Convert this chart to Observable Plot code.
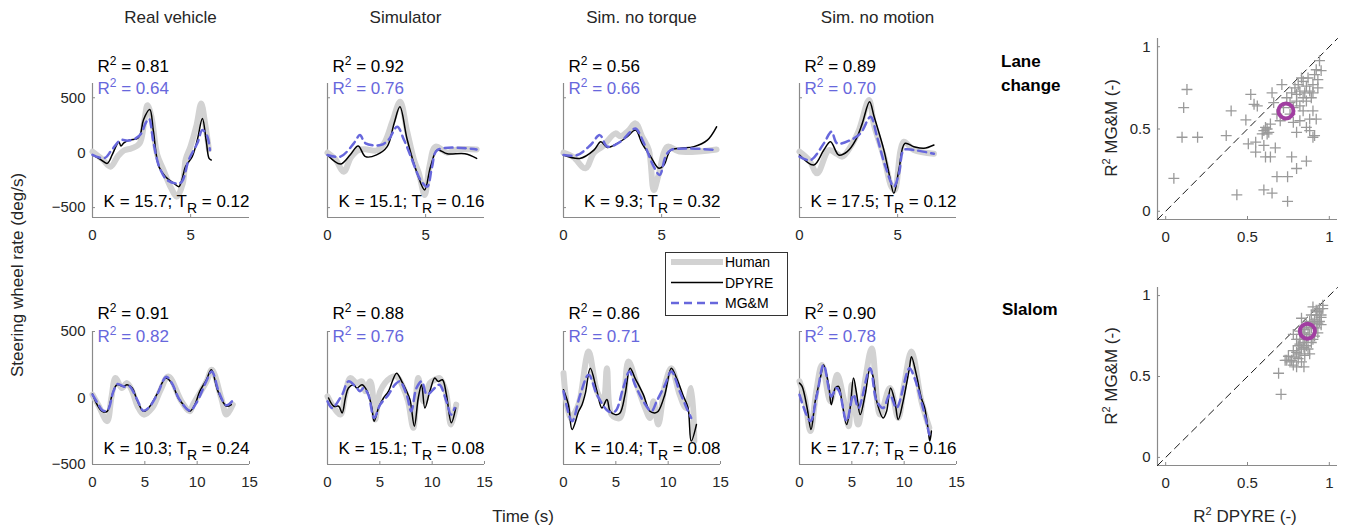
<!DOCTYPE html>
<html><head><meta charset="utf-8">
<script src="https://cdn.jsdelivr.net/npm/d3@7"></script>
<script src="https://cdn.jsdelivr.net/npm/@observablehq/plot@0.6"></script>
<style>
body{margin:0;background:#fff;}
#root{position:relative;width:1348px;height:529px;font-family:"Liberation Sans",Arial,sans-serif;color:#262626;overflow:hidden;background:#fff}
.abs{position:absolute;white-space:nowrap}
.c{transform:translate(-50%,-50%)}
.rot{transform:translate(-50%,-50%) rotate(-90deg)}
.lab{font-size:17px}
sup{font-size:11px;vertical-align:7px;line-height:0}
</style></head><body><div id="root"></div><script>
// ---------- categories / labels ----------
const conditions = ["Real vehicle", "Simulator", "Sim. no torque", "Sim. no motion"];
const maneuvers = ["Lane change", "Slalom"];
const seriesNames = ["Human", "DPYRE", "MG&M"];
const r2Dpyre = [[0.81, 0.92, 0.56, 0.89], [0.91, 0.88, 0.86, 0.90]];
const r2Mgm   = [[0.64, 0.76, 0.66, 0.70], [0.82, 0.76, 0.71, 0.78]];
const gainK   = [[15.7, 15.1, 9.3, 17.5], [10.3, 15.1, 10.4, 17.7]];
const tauR    = [[0.12, 0.16, 0.32, 0.12], [0.24, 0.08, 0.08, 0.16]];
const timeDomains = [[0, 8], [0, 15]];
const rateDomains = [[-590, 630], [-500, 500]];
const timeTicks = [[0, 5], [0, 5, 10, 15]];
const rateTicks = [-500, 0, 500];
const r2Domain = [-0.05, 1.05];
const r2Ticks = [0, 0.5, 1];

// ---------- time series: [time (s), steering wheel rate (deg/s)] ----------
// Lane change
const lcRealHuman = [[0,10],[0.5,-60],[0.92,-127],[1.3,-30],[1.6,20],[2.0,40],[2.4,85],[2.65,300],[2.8,433],[3.0,330],[3.3,-20],[3.6,-150],[4.0,-320],[4.3,-400],[4.6,-280],[4.75,-60],[5.0,60],[5.3,250],[5.54,448],[5.75,250],[5.93,30]];
const lcRealDpyre = [[0,-20],[0.4,-60],[0.75,-97],[1.0,-20],[1.2,60],[1.34,100],[1.45,60],[1.6,90],[1.9,115],[2.3,130],[2.45,175],[2.6,300],[2.92,394],[3.1,200],[3.38,-127],[3.72,-218],[4.15,-279],[4.4,-309],[4.55,-250],[4.74,-127],[5.08,-36],[5.34,115],[5.6,312],[5.8,100],[5.94,-52],[6.05,-67]];
const lcRealMgm   = [[0,-20],[0.6,-50],[1.0,30],[1.43,115],[1.8,110],[2.2,130],[2.5,180],[2.7,267],[2.88,310],[3.1,100],[3.4,-127],[3.8,-248],[4.3,-280],[4.55,-265],[4.9,-67],[5.34,85],[5.6,206],[5.85,150],[5.98,24]];
const lcSimHuman  = [[0,0],[0.4,-60],[0.83,-173],[1.2,-40],[1.6,24],[2.0,30],[2.5,20],[2.9,90],[3.3,280],[3.7,464],[4.05,200],[4.4,-60],[4.66,-188],[4.95,-385],[5.2,-120],[5.5,55],[6.1,0],[6.6,30],[7.6,30]];
const lcSimDpyre  = [[0,-21],[0.66,-103],[1.15,-21],[1.56,61],[1.94,-36],[2.5,-20],[3.04,55],[3.4,270],[3.69,418],[4.06,120],[4.57,-188],[4.95,-339],[5.25,-127],[5.6,24],[6.1,-10],[7.0,-10],[7.6,-52]];
const lcSimMgm    = [[0,-21],[0.66,-36],[1.34,85],[1.65,160],[1.94,85],[2.7,70],[3.1,115],[3.55,236],[3.9,115],[4.25,-36],[4.74,-248],[5.08,-309],[5.33,-127],[5.6,24],[7.6,30]];
const lcNoTqHuman = [[0,0],[0.5,-40],[1.12,-142],[1.55,0],[2.0,60],[2.65,176],[2.9,150],[3.3,200],[3.67,267],[4.0,150],[4.35,24],[4.6,-340],[4.85,-200],[5.3,55],[5.9,10],[7.8,30]];
const lcNoTqDpyre = [[0,-21],[0.83,-52],[1.55,24],[1.9,100],[2.23,48],[2.74,85],[3.25,145],[3.67,206],[4.0,85],[4.44,-36],[4.86,-142],[5.12,-112],[5.46,24],[5.97,40],[6.65,55],[7.33,115],[7.8,236]];
const lcNoTqMgm   = [[0,-21],[0.7,-21],[1.38,70],[1.85,160],[2.23,55],[2.9,100],[3.42,191],[3.67,221],[4.1,85],[4.6,-127],[4.9,-203],[5.2,-36],[5.46,24],[7.8,24]];
const lcNoMoHuman = [[0,10],[0.5,-70],[0.9,-188],[1.5,24],[1.9,-10],[2.18,-36],[2.6,55],[3.03,206],[3.54,479],[3.8,250],[4.3,-36],[4.68,-309],[4.85,-340],[5.15,24],[5.32,100],[5.83,24],[6.85,-10]];
const lcNoMoDpyre = [[0,-21],[0.73,-112],[1.24,24],[1.58,100],[2.0,-21],[2.43,10],[2.86,115],[3.2,267],[3.57,464],[3.8,330],[4.3,24],[4.56,-188],[4.81,-370],[5.07,-150],[5.37,85],[5.83,55],[6.34,40],[6.85,70]];
const lcNoMoMgm   = [[0,-36],[0.56,-67],[1.24,85],[1.63,191],[1.92,85],[2.6,115],[3.11,176],[3.62,327],[3.95,145],[4.38,-127],[4.81,-309],[5.07,-188],[5.32,24],[5.83,24],[6.85,-10]];
// Slalom
const slRealHuman = [[0,25],[0.6,-60],[1.4,-174],[1.8,0],[2.2,150],[2.8,75],[3.3,112],[3.8,50],[4.3,-60],[4.9,-125],[5.7,-75],[6.5,60],[7.25,162],[8.5,-25],[9.3,-100],[9.6,-50],[10.9,125],[11.4,212],[12.3,0],[12.8,-125],[13.4,-50]];
const slRealDpyre = [[0,30],[0.44,-50],[0.92,-100],[1.4,-100],[1.88,25],[2.34,100],[2.97,87],[3.3,100],[3.8,75],[4.24,-12],[4.87,-100],[5.35,-75],[6.14,25],[7.0,150],[7.56,112],[8.2,0],[8.8,-62],[9.3,-100],[9.78,-50],[10.25,50],[10.88,137],[11.36,212],[11.99,50],[12.8,-62],[13.26,-50]];
const slRealMgm   = [[0,25],[0.5,-40],[1.0,-95],[1.45,-90],[2.0,50],[2.4,105],[3.0,85],[3.5,90],[4.25,-10],[4.85,-95],[5.4,-70],[6.2,30],[7.05,160],[7.6,110],[8.3,-10],[9.3,-95],[9.9,-40],[10.9,130],[11.4,200],[12.1,40],[12.8,-55],[13.6,0]];
const slSimHuman  = [[0,12],[0.44,-50],[1.23,-124],[1.7,25],[2.18,150],[2.8,112],[3.3,125],[3.6,50],[4.08,125],[4.4,-25],[4.56,-162],[5.03,50],[6.0,150],[6.6,162],[7.25,75],[7.7,-25],[8.2,-224],[8.67,150],[9.15,-25],[9.78,112],[10.25,137],[10.7,150],[11.3,50],[11.8,-200],[12.3,-50]];
const slSimDpyre  = [[0.1,0],[0.6,-62],[1.07,-62],[1.4,-112],[1.71,0],[2.0,75],[2.5,100],[2.8,75],[3.3,100],[3.8,50],[4.24,-75],[4.46,-174],[4.87,-75],[5.35,0],[5.82,50],[6.6,187],[7.09,125],[7.56,50],[7.88,-12],[8.3,-212],[8.67,0],[8.99,100],[9.3,-75],[9.78,50],[10.25,150],[10.57,125],[10.98,137],[11.36,25],[11.83,-187],[12.25,-75]];
const slSimMgm    = [[0,-25],[0.44,-75],[1.4,25],[2.0,125],[2.8,75],[3.1,50],[3.45,75],[3.9,25],[4.46,-150],[5.03,-50],[5.82,25],[6.45,100],[6.9,125],[7.56,25],[8.0,-100],[8.5,75],[9.0,125],[9.5,25],[10.25,75],[10.7,100],[11.36,-25],[11.8,-125],[12.15,-75]];
const slNoTqHuman = [[0,187],[0.66,-150],[1.3,-75],[1.6,0],[2.4,349],[3.2,50],[3.8,-25],[4.15,224],[4.6,-125],[5.4,-150],[6.2,274],[7.0,100],[7.8,-75],[8.26,-150],[8.6,-25],[9.05,-200],[9.7,100],[10.3,224],[11.1,25],[11.7,-75],[12.2,75],[12.5,-324]];
const slNoTqDpyre = [[0,62],[0.47,-50],[0.82,-237],[1.45,-100],[1.77,-50],[2.09,37],[2.56,224],[3.2,50],[3.67,-75],[4.15,-12],[4.46,-100],[4.94,-125],[5.4,-112],[5.88,25],[6.36,224],[6.83,150],[7.63,25],[8.26,-100],[8.73,-112],[9.05,-100],[9.68,25],[10.3,224],[10.8,150],[11.4,25],[11.9,-75],[12.2,-324],[12.7,-200]];
const slNoTqMgm   = [[0,50],[0.82,-174],[1.6,25],[2.4,174],[3.2,25],[4.3,-100],[4.94,-100],[5.7,75],[6.3,200],[6.83,100],[7.63,-25],[8.4,-100],[8.9,-25],[9.7,100],[10.3,200],[11.1,50],[11.9,-100],[12.2,-150]];
const slNoMoHuman = [[0,125],[0.5,0],[1.04,-249],[1.6,50],[2.15,249],[2.95,-25],[3.6,174],[4.2,0],[4.7,-212],[5.0,100],[5.6,-200],[6.3,150],[6.9,373],[7.7,-125],[8.64,75],[9.43,-150],[10.0,100],[10.7,349],[11.65,-25],[12.4,-224]];
const slNoMoDpyre = [[0,112],[0.25,87],[0.73,-75],[1.1,-237],[1.5,-25],[1.99,150],[2.3,249],[2.78,100],[3.04,-50],[3.42,75],[3.73,87],[4.05,-25],[4.5,-200],[4.84,-75],[5.16,150],[5.47,25],[5.8,-125],[6.27,25],[6.74,224],[7.06,150],[7.38,-25],[8.0,-150],[8.32,-100],[8.7,75],[9.11,-25],[9.43,-162],[9.9,-25],[10.5,224],[10.7,311],[11.17,174],[11.64,0],[11.96,-75],[12.27,-224],[12.45,-324],[12.6,-249]];
const slNoMoMgm   = [[0,25],[1.04,-174],[1.67,25],[2.3,249],[3.04,12],[3.5,75],[3.8,50],[4.5,-174],[5.16,25],[5.63,-75],[6.74,224],[7.38,-25],[8.0,-75],[8.64,25],[9.27,-75],[10.5,224],[10.99,150],[11.8,-75],[12.4,-274]];

// ---------- scatter: [R2 DPYRE, R2 MG&M] ----------
const lcR2Points = [[0.13,0.74],[0.11,0.63],[0.10,0.45],[0.195,0.45],[0.05,0.20],[0.40,0.61],[0.37,0.46],[0.435,0.10],[0.52,0.71],[0.49,0.555],[0.54,0.65],[0.56,0.64],[0.505,0.41],[0.55,0.42],[0.55,0.36],[0.60,0.40],[0.61,0.33],[0.64,0.33],[0.67,0.385],[0.60,0.13],[0.65,0.11],[0.68,0.21],[0.745,0.21],[0.745,0.06],[0.62,0.50],[0.63,0.48],[0.64,0.53],[0.62,0.47],[0.65,0.72],[0.66,0.66],[0.71,0.77],[0.68,0.59],[0.70,0.55],[0.77,0.33],[0.80,0.26],[0.86,0.305],[0.80,0.48],[0.86,0.51],[0.88,0.49],[0.90,0.45],[0.91,0.46],[0.92,0.56],[0.90,0.61],[0.88,0.56],[0.84,0.61],[0.82,0.55],[0.78,0.54],[0.76,0.59],[0.74,0.69],[0.77,0.72],[0.79,0.75],[0.81,0.77],[0.82,0.73],[0.84,0.79],[0.86,0.76],[0.87,0.81],[0.88,0.73],[0.90,0.77],[0.91,0.83],[0.92,0.86],[0.93,0.80],[0.94,0.915],[0.95,0.855],[0.84,0.69],[0.80,0.67],[0.82,0.64],[0.86,0.67],[0.89,0.69],[0.78,0.63],[0.85,0.72],[0.90,0.72],[0.93,0.75],[0.80,0.71],[0.83,0.81],[0.76,0.66],[0.72,0.63],[0.60,0.49],[0.61,0.51],[0.59,0.47]];
const slR2Points = [[0.69,0.52],[0.705,0.39],[0.73,0.60],[0.75,0.625],[0.77,0.60],[0.78,0.57],[0.80,0.56],[0.845,0.56],[0.88,0.64],[0.78,0.76],[0.83,0.86],[0.90,0.93],[0.96,0.94],[0.95,0.865],[0.80,0.65],[0.81,0.69],[0.82,0.64],[0.83,0.67],[0.84,0.71],[0.85,0.73],[0.86,0.69],[0.87,0.74],[0.88,0.76],[0.89,0.80],[0.90,0.83],[0.91,0.85],[0.92,0.88],[0.93,0.90],[0.94,0.92],[0.91,0.75],[0.92,0.80],[0.93,0.83],[0.94,0.84],[0.95,0.88],[0.90,0.73],[0.89,0.71],[0.88,0.84],[0.86,0.82],[0.85,0.79],[0.82,0.73],[0.79,0.62],[0.78,0.66],[0.81,0.61],[0.83,0.59],[0.85,0.63],[0.76,0.59],[0.74,0.60],[0.87,0.80],[0.89,0.88],[0.92,0.91],[0.96,0.92],[0.84,0.77],[0.82,0.78],[0.80,0.73],[0.86,0.74],[0.93,0.77],[0.95,0.82],[0.87,0.67],[0.82,0.70],[0.845,0.68]];
const lcR2Mean = [[0.735, 0.61]];
const slR2Mean = [[0.866, 0.78]];

const timeSeries = [
  [[lcRealHuman, lcRealDpyre, lcRealMgm], [lcSimHuman, lcSimDpyre, lcSimMgm], [lcNoTqHuman, lcNoTqDpyre, lcNoTqMgm], [lcNoMoHuman, lcNoMoDpyre, lcNoMoMgm]],
  [[slRealHuman, slRealDpyre, slRealMgm], [slSimHuman, slSimDpyre, slSimMgm], [slNoTqHuman, slNoTqDpyre, slNoTqMgm], [slNoMoHuman, slNoMoDpyre, slNoMoMgm]]
];
const scatterPoints = [lcR2Points, slR2Points];
const scatterMeans = [lcR2Mean, slR2Mean];

// ---------- styles ----------
const FONT = "Liberation Sans, Arial, sans-serif";
const INK = "#262626";
const AXIS = "#8a8a8a";
const HUMAN = "#d2d2d2", DPYRE = "#000000", MGM = "#6767dc", MEAN = "#a13ea1", CROSS = "#9a9a9a";
const seriesStyles = [
  {stroke: HUMAN, strokeWidth: 6},
  {stroke: DPYRE, strokeWidth: 1.5},
  {stroke: MGM, strokeWidth: 2.5, strokeDasharray: "8,5"}
];

// layout (pixels)
const colLeft = [92, 327, 563, 799];
const frameW = 157;
const rowTop = [83, 331];
const frameH = [134, 133];
const root = document.getElementById("root");

function richify(svg) {
  svg.querySelectorAll("text").forEach(t => {
    const s = t.textContent;
    if (!/\^2|_R/.test(s)) return;
    const fs = parseFloat(t.getAttribute("font-size") || 17);
    const parts = s.split(/(\^2|_R)/).filter(p => p.length);
    t.textContent = "";
    let cur = 0;
    parts.forEach(p => {
      const ts = document.createElementNS("http://www.w3.org/2000/svg", "tspan");
      let target = 0;
      if (p === "^2") { ts.textContent = "2"; ts.setAttribute("font-size", Math.round(fs * 0.68)); target = -fs * 0.42; }
      else if (p === "_R") { ts.textContent = "R"; ts.setAttribute("font-size", Math.round(fs * 0.85)); target = fs * 0.38; }
      else { ts.textContent = p; }
      ts.setAttribute("dy", (target - cur).toFixed(1));
      cur = target;
      t.appendChild(ts);
    });
  });
}

function place(el, left, top) {
  el.style.position = "absolute";
  el.style.left = left + "px";
  el.style.top = top + "px";
  root.appendChild(el);
}

// ---------- time-series panels ----------
const mL = 50, mR = 10, mT = 35, mB = 30;
for (let row = 0; row < 2; row++) {
  for (let col = 0; col < 4; col++) {
    const [human, dpyre, mgm] = timeSeries[row][col];
    const xd = timeDomains[row], yd = rateDomains[row];
    const svg = Plot.plot({
      width: mL + frameW + mR, height: mT + frameH[row] + mB,
      marginLeft: mL, marginRight: mR, marginTop: mT, marginBottom: mB,
      x: {domain: xd}, y: {domain: yd},
      style: {fontFamily: FONT, fontSize: "15px", color: INK, background: "transparent", overflow: "visible"},
      marks: [
        Plot.ruleX([xd[0]], {stroke: AXIS, strokeWidth: 1.2}),
        Plot.ruleY([yd[0]], {stroke: AXIS, strokeWidth: 1.2}),
        Plot.axisX(timeTicks[row], {tickSize: 0, tickPadding: 12, label: null, fill: INK}),
        Plot.axisX(timeTicks[row].slice(1), {tickSize: 3, dy: -3, tickFormat: () => "", label: null, stroke: AXIS}),
        col === 0 ? Plot.axisY(rateTicks, {tickSize: 0, tickPadding: 7, label: null, fill: INK}) : null,
        Plot.axisY(rateTicks, {tickSize: 3, dx: 3, tickFormat: () => "", label: null, stroke: AXIS}),
        Plot.line(human, {x: d => d[0], y: d => d[1], ...seriesStyles[0], curve: "catmull-rom", strokeLinejoin: "round"}),
        Plot.line(dpyre, {x: d => d[0], y: d => d[1], ...seriesStyles[1], curve: "catmull-rom"}),
        Plot.line(mgm, {x: d => d[0], y: d => d[1], ...seriesStyles[2], curve: "catmull-rom"}),
        Plot.text([`R^2 = ${r2Dpyre[row][col].toFixed(2)}`], {frameAnchor: "top-left", text: d => d, dx: 5, dy: row === 0 ? -17 : -18, lineAnchor: "middle", textAnchor: "start", fill: "#000", fontSize: 17}),
        Plot.text([`R^2 = ${r2Mgm[row][col].toFixed(2)}`], {frameAnchor: "top-left", text: d => d, dx: 5, dy: 5, lineAnchor: "middle", textAnchor: "start", fill: MGM, fontSize: 17}),
        Plot.text([`K = ${gainK[row][col].toFixed(1)}; T_R = ${tauR[row][col].toFixed(2)}`], {frameAnchor: "bottom-right", text: d => d, dx: 0, dy: -16, lineAnchor: "middle", textAnchor: "end", fill: "#000", fontSize: 17})
      ]
    });
    richify(svg);
    place(svg, colLeft[col] - mL, rowTop[row] - mT);
  }
}

// ---------- scatter panels ----------
const sLeft = 1157, sW = 180;
const sTop = [38, 287], sH = [181, 178];
const sL = 40, sR = 11, sT = 10, sB = 30;
for (let i = 0; i < 2; i++) {
  const svg = Plot.plot({
    width: sL + sW + sR, height: sT + sH[i] + sB,
    marginLeft: sL, marginRight: sR, marginTop: sT, marginBottom: sB,
    x: {domain: r2Domain}, y: {domain: r2Domain},
    style: {fontFamily: FONT, fontSize: "15px", color: INK, background: "transparent", overflow: "visible"},
    marks: [
      Plot.ruleX([r2Domain[0]], {stroke: AXIS, strokeWidth: 1.2}),
      Plot.ruleY([r2Domain[0]], {stroke: AXIS, strokeWidth: 1.2}),
      Plot.axisX(r2Ticks, {tickSize: 0, tickPadding: 12, label: null, fill: INK, tickFormat: d => String(d)}),
      Plot.axisX(r2Ticks, {tickSize: 3, dy: -3, tickFormat: () => "", label: null, stroke: AXIS}),
      Plot.axisY(r2Ticks, {tickSize: 0, tickPadding: 7, label: null, fill: INK, tickFormat: d => String(d)}),
      Plot.axisY(r2Ticks, {tickSize: 3, dx: 3, tickFormat: () => "", label: null, stroke: AXIS}),
      Plot.line(r2Domain, {x: d => d, y: d => d, stroke: "#000", strokeWidth: 0.9, strokeDasharray: "7,5"}),
      Plot.dot(scatterPoints[i], {x: d => d[0], y: d => d[1], symbol: "plus", r: 3.6, stroke: CROSS, strokeWidth: 1.3}),
      Plot.dot(scatterMeans[i], {x: d => d[0], y: d => d[1], r: 7.5, stroke: MEAN, strokeWidth: 4, fill: "none"})
    ]
  });
  place(svg, sLeft - sL, sTop[i] - sT);
}

// ---------- HTML text: titles, axis labels, row labels ----------
function addText(html, cls, left, top, extra = "") {
  const d = document.createElement("div");
  d.className = "abs " + cls;
  d.style.left = left + "px";
  d.style.top = top + "px";
  d.style.cssText += extra;
  d.innerHTML = html;
  root.appendChild(d);
  return d;
}
conditions.forEach((c, i) => addText(c, "c lab", colLeft[i] + frameW / 2, 18));
addText("Steering wheel rate (deg/s)", "rot lab", 18, 275);
addText("Time (s)", "c lab", 523, 517);
addText(maneuvers[0].replace(" ", "<br>"), "lab", 1001, 50, "font-weight:bold;line-height:24px;color:#000;");
addText(maneuvers[1], "lab", 1002, 298, "font-weight:bold;line-height:24px;color:#000;");
addText("R<sup>2</sup> MG&amp;M (-)", "rot lab", 1112, 128);
addText("R<sup>2</sup> MG&amp;M (-)", "rot lab", 1112, 376);
addText("R<sup>2</sup> DPYRE (-)", "c lab", 1245, 517);

// ---------- legend ----------
const leg = document.createElement("div");
leg.className = "abs";
leg.style.cssText += "left:665px;top:252px;width:121px;height:62px;border:1px solid #333;background:#fff;";
const ns = "http://www.w3.org/2000/svg";
const lsvg = document.createElementNS(ns, "svg");
lsvg.setAttribute("width", 121); lsvg.setAttribute("height", 62);
seriesNames.forEach((name, k) => {
  const y = 9 + k * 20.5;
  const ln = document.createElementNS(ns, "line");
  ln.setAttribute("x1", 5); ln.setAttribute("x2", 57); ln.setAttribute("y1", y); ln.setAttribute("y2", y);
  ln.setAttribute("stroke", seriesStyles[k].stroke);
  ln.setAttribute("stroke-width", seriesStyles[k].strokeWidth);
  if (seriesStyles[k].strokeDasharray) ln.setAttribute("stroke-dasharray", seriesStyles[k].strokeDasharray);
  lsvg.appendChild(ln);
  const tx = document.createElementNS(ns, "text");
  tx.setAttribute("x", 59); tx.setAttribute("y", y); tx.setAttribute("dominant-baseline", "central");
  tx.setAttribute("font-size", 14); tx.setAttribute("font-family", FONT); tx.setAttribute("fill", "#000");
  tx.textContent = name;
  lsvg.appendChild(tx);
});
leg.appendChild(lsvg);
root.appendChild(leg);
</script></body></html>
